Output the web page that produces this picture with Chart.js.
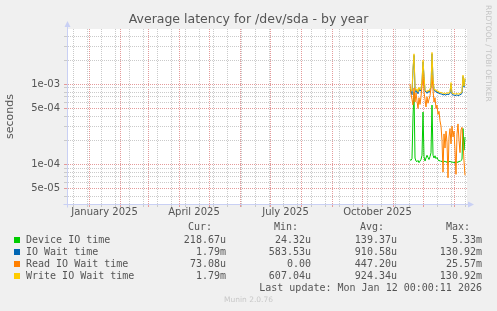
<!DOCTYPE html>
<html><head><meta charset="utf-8">
<script src="https://cdn.jsdelivr.net/npm/chart.js@4"></script>
<style>
html,body{margin:0;padding:0;background:#F0F0F0;}
#wrap{position:relative;width:497px;height:311px;overflow:hidden;background:#F0F0F0;}
canvas{position:absolute;left:0;top:0;}
.t{position:absolute;white-space:pre;font-family:"DejaVu Sans Mono",monospace;font-size:10px;line-height:12px;height:12px;color:#555;}
.sq{position:absolute;width:6px;height:6px;}
#rrd{position:absolute;left:484px;top:5px;writing-mode:vertical-rl;font-family:"DejaVu Sans",sans-serif;font-size:7.5px;line-height:9px;color:#C4C4C4;white-space:pre;}
#munin{position:absolute;left:0;width:497px;top:295px;text-align:center;font-family:"DejaVu Sans",sans-serif;font-size:7.5px;line-height:10px;color:#C8C8C8;}
</style></head><body>
<div id="wrap"><canvas id="c" width="497" height="311"></canvas><div id="leg"></div>
<div id="rrd">RRDTOOL / TOBI OETIKER</div><div id="munin">Munin 2.0.76</div></div>
<script>
// ---------------- data ----------------
const chartTitle = 'Average latency for /dev/sda - by year';
const firstSample = [2025, 11, 18];            // first daily sample (y, m, d)
const viewStart = [2024, 12, 10];              // left edge of the graph
const viewEnd = [2026, 1, 14];                 // right edge of the graph

const deviceIO = [1.15e-4,1.12e-4,1.18e-4,4.0e-4,8.0e-4,1.2e-4,1.1e-4,1.08e-4,1.12e-4,1.05e-4,
  1.1e-4,1.15e-4,1.3e-4,4.5e-4,1.25e-4,1.1e-4,1.2e-4,1.3e-4,1.22e-4,1.15e-4,
  1.25e-4,1.4e-4,5.5e-4,1.3e-4,1.2e-4,1.28e-4,1.18e-4,1.22e-4,1.15e-4,1.1e-4,
  1.12e-4,1.08e-4,1.1e-4,1.05e-4,1.08e-4,1.1e-4,1.06e-4,1.08e-4,1.04e-4,1.07e-4,
  1.1e-4,1.06e-4,1.08e-4,1.05e-4,1.07e-4,1.04e-4,1.06e-4,1.08e-4,1.05e-4,1.1e-4,
  1.08e-4,1.12e-4,1.15e-4,2.8e-4,1.5e-4,2.2e-4];
const ioWait = [8.7e-4,8.2e-4,7.4e-4,1.5e-3,2.3e-3,9.0e-4,7.9e-4,8.5e-4,7.6e-4,8.9e-4,
  8.2e-4,8.5e-4,1.05e-3,1.9e-3,1.25e-3,8.3e-4,8.0e-4,7.7e-4,8.2e-4,7.9e-4,
  8.5e-4,9.2e-4,2.4e-3,1.15e-3,8.5e-4,8.1e-4,8.3e-4,7.8e-4,8.0e-4,7.6e-4,
  7.7e-4,7.5e-4,7.6e-4,7.3e-4,7.5e-4,7.4e-4,7.3e-4,7.6e-4,7.4e-4,7.5e-4,
  7.7e-4,1.0e-3,7.5e-4,7.3e-4,7.4e-4,7.2e-4,7.3e-4,7.4e-4,7.2e-4,7.3e-4,
  7.4e-4,7.5e-4,7.7e-4,1.25e-3,9.2e-4,1.15e-3];
const readWait = [1.0e-3,7.5e-4,6.5e-4,5.5e-4,9.0e-4,6.0e-4,7.8e-4,6.2e-4,5.0e-4,6.8e-4,
  5.6e-4,7.0e-4,9.5e-4,1.4e-3,8.0e-4,6.5e-4,5.2e-4,7.0e-4,5.8e-4,6.5e-4,
  7.2e-4,9.0e-4,1.3e-3,8.5e-4,6.0e-4,6.8e-4,5.0e-4,5.5e-4,4.2e-4,4.6e-4,
  3.5e-4,3.0e-4,2.0e-4,8.0e-5,2.4e-4,1.6e-4,2.6e-4,1.9e-4,6.8e-5,2.2e-4,
  2.8e-4,1.8e-4,3.0e-4,2.2e-4,2.6e-4,1.5e-4,7.5e-5,2.4e-4,3.2e-4,2.0e-4,
  1.4e-4,2.7e-4,2.9e-4,1.9e-4,1.1e-4,7.3e-5];
const writeWait = [9.0e-4,8.6e-4,8.2e-4,1.6e-3,2.4e-3,9.5e-4,8.3e-4,8.8e-4,8.0e-4,9.2e-4,
  8.5e-4,8.8e-4,1.1e-3,2.0e-3,1.3e-3,8.6e-4,8.3e-4,8.0e-4,8.5e-4,8.2e-4,
  8.8e-4,9.5e-4,2.5e-3,1.2e-3,8.8e-4,8.4e-4,8.6e-4,8.1e-4,8.3e-4,7.9e-4,
  8.0e-4,7.8e-4,7.9e-4,7.6e-4,7.8e-4,7.7e-4,7.6e-4,7.9e-4,7.7e-4,7.8e-4,
  8.0e-4,1.05e-3,7.8e-4,7.6e-4,7.7e-4,7.5e-4,7.6e-4,7.7e-4,7.5e-4,7.6e-4,
  7.7e-4,7.8e-4,8.0e-4,1.3e-3,9.5e-4,1.2e-3];

const seriesNames = ['Device IO time','IO Wait time','Read IO Wait time','Write IO Wait time'];
const seriesColors = ['#00CC00','#0066B3','#FF8000','#FFCC00'];
const curVals = ['218.67u','1.79m','73.08u','1.79m'];
const minVals = ['24.32u','583.53u','0.00','607.04u'];
const avgVals = ['139.37u','910.58u','447.20u','924.34u'];
const maxVals = ['5.33m','130.92m','25.57m','130.92m'];
const lastUpdate = 'Last update: Mon Jan 12 00:00:11 2026';

const yMin = 3.2e-5, yMax = 4.9e-3;
const yGridValues = [4e-5,5e-5,6e-5,7e-5,8e-5,9e-5,1e-4,2e-4,3e-4,4e-4,5e-4,6e-4,7e-4,8e-4,9e-4,1e-3,2e-3,3e-3,4e-3];
const yLabelValues = [5e-5,1e-4,5e-4,1e-3];
const yLabelTexts = ['5e-05','1e-04','5e-04','1e-03'];
const xLabelMonths = [[2025,1],[2025,4],[2025,7],[2025,10]];
const xLabelTexts = ['January 2025','April 2025','July 2025','October 2025'];
const minorGridFirst = [2024,12,16];   // every other Monday
const minorGridStepDays = 14;

// ---------------- helpers ----------------
const DAY = 86400000;
const ORIGIN = Date.UTC(2025,0,1);
const dayOf = (y,m,d) => (Date.UTC(y,m-1,d)-ORIGIN)/DAY;
const xMin = dayOf(...viewStart), xMax = dayOf(...viewEnd);
const d0 = dayOf(...firstSample);
const toPts = arr => arr.map((v,i)=>({x:d0+i, y:v}));

const monthLines = [];
for (let y=2024; y<=2026; y++) for (let m=1; m<=12; m++) {
  const d = dayOf(y,m,1); if (d>=xMin && d<=xMax) monthLines.push(d);
}
const minorLines = [];
for (let d=dayOf(...minorGridFirst); d<=xMax; d+=minorGridStepDays) if (d>=xMin) minorLines.push(d);
const xGrid = [...new Set([...minorLines, ...monthLines])].sort((a,b)=>a-b);
const xLabelPos = xLabelMonths.map(([y,m]) => (dayOf(y,m,1)+dayOf(m===12?y+1:y, m===12?1:m+1, 1))/2);

const isClose = (a,b) => Math.abs(a-b) <= Math.abs(b)*1e-6;
const MINOR = '#CACACA', MAJOR = '#E49A9A', AXIS = '#C9D0F4';
const TXT = '#555';

const decor = {
  id:'decor',
  beforeDraw(chart){
    const {ctx, chartArea:a} = chart;
    ctx.save(); ctx.fillStyle='#FFFFFF';
    ctx.fillRect(a.left, a.top, a.right-a.left, a.bottom-a.top); ctx.restore();
  },
  afterDraw(chart){
    const {ctx, chartArea:a} = chart;
    const L = Math.round(a.left)+0.5, B = Math.round(a.bottom)+0.5;
    ctx.save(); ctx.strokeStyle=AXIS; ctx.fillStyle=AXIS; ctx.lineWidth=1;
    ctx.beginPath(); ctx.moveTo(L, B+3); ctx.lineTo(L, a.top-3); ctx.stroke();
    ctx.beginPath(); ctx.moveTo(L-4, B); ctx.lineTo(a.right+2, B); ctx.stroke();
    ctx.beginPath(); ctx.moveTo(L-3, a.top-2); ctx.lineTo(L+3, a.top-2); ctx.lineTo(L, a.top-8); ctx.closePath(); ctx.fill();
    ctx.beginPath(); ctx.moveTo(a.right+1, B-3); ctx.lineTo(a.right+1, B+3); ctx.lineTo(a.right+7, B); ctx.closePath(); ctx.fill();
    ctx.restore();
  }
};

const ds = (label, data, color, order) => ({label, data: toPts(data), borderColor: color, backgroundColor: color,
  borderWidth: 1, pointRadius: 0, tension: 0, fill: false, order, xAxisID:'x', yAxisID:'y'});

new Chart(document.getElementById('c'), {
  type: 'line',
  data: { datasets: [
    ds(seriesNames[3], writeWait, seriesColors[3], 0),
    ds(seriesNames[2], readWait, seriesColors[2], 1),
    ds(seriesNames[1], ioWait, seriesColors[1], 2),
    ds(seriesNames[0], deviceIO, seriesColors[0], 3),
  ]},
  options: {
    responsive: false, animation: false, events: [],
    layout: { padding: { left: 0, right: 0, top: 0, bottom: 88 } },
    plugins: {
      legend: { display: false }, tooltip: { enabled: false },
      title: { display: true, text: chartTitle, color: TXT,
        font: { family: 'DejaVu Sans', size: 12.5, weight: 'normal' }, padding: { top: 12, bottom: 2 } }
    },
    scales: {
      x: { type: 'linear', position: 'bottom', weight: 0, min: xMin, max: xMax,
        afterBuildTicks: s => { s.ticks = xGrid.map(v => ({value: v})); },
        afterFit: s => { s.height = 3; },
        ticks: { display: false },
        grid: { drawTicks: true, tickLength: 3, lineWidth: 1,
          color: c => monthLines.includes(c.tick && c.tick.value) ? MAJOR : MINOR },
        border: { display: true, color: AXIS, dash: [1,1] } },
      x2: { type: 'linear', position: 'bottom', weight: 1, min: xMin, max: xMax,
        afterBuildTicks: s => { s.ticks = xLabelPos.map(v => ({value: v})); },
        afterFit: s => { s.height = 16; },
        grid: { display: false, drawTicks: false, tickLength: 0 }, border: { display: false },
        ticks: { autoSkip: false, maxRotation: 0, padding: -1, color: TXT,
          font: { family: 'DejaVu Sans', size: 10 },
          callback: (v) => { const i = xLabelPos.findIndex(p => Math.abs(p-v)<1e-6); return i>=0 ? xLabelTexts[i] : ''; } } },
      y: { type: 'logarithmic', position: 'left', min: yMin, max: yMax,
        afterBuildTicks: s => { s.ticks = yGridValues.map(v => ({value: v})); },
        afterFit: s => { s.width = 67; },
        ticks: { autoSkip: false, padding: 4, color: TXT, font: { family: 'DejaVu Sans', size: 10 },
          callback: (v) => { const i = yLabelValues.findIndex(p => isClose(v,p)); return i>=0 ? yLabelTexts[i] : ''; } },
        grid: { drawTicks: true, tickLength: 3, lineWidth: 1,
          color: c => (c.tick && yLabelValues.some(p => isClose(c.tick.value,p))) ? MAJOR : MINOR },
        border: { display: true, color: AXIS, dash: [1,1] },
        title: { display: true, text: 'seconds', color: TXT, font: { family: 'DejaVu Sans', size: 11 }, padding: { top: 4, bottom: 0 } } },
      yr: { type: 'linear', position: 'right', display: true,
        afterFit: s => { s.width = 30; },
        grid: { display: false }, border: { display: false }, ticks: { display: false } }
    }
  },
  plugins: [decor]
});

// ---------------- legend (HTML text) ----------------
const leg = document.getElementById('leg');
function addText(txt, cy, opts) {
  const d = document.createElement('div'); d.className = 't'; d.textContent = txt;
  d.style.top = (cy - 6) + 'px';
  if (opts.left !== undefined) d.style.left = opts.left + 'px';
  if (opts.right !== undefined) { d.style.right = (497 - opts.right) + 'px'; d.style.textAlign = 'right'; }
  leg.appendChild(d);
}
const headRight = [212, 298, 384, 470];
const valRight = [226, 311, 397, 482];
['Cur:','Min:','Avg:','Max:'].forEach((h,i) => addText(h, 227, {right: headRight[i]}));
const rowY = [240, 252, 264, 276];
seriesNames.forEach((n,i) => {
  const sq = document.createElement('div'); sq.className = 'sq';
  sq.style.left = '14px'; sq.style.top = (rowY[i]-3) + 'px'; sq.style.background = seriesColors[i];
  leg.appendChild(sq);
  addText(n, rowY[i], {left: 26});
  [curVals, minVals, avgVals, maxVals].forEach((arr,j) => addText(arr[i], rowY[i], {right: valRight[j]}));
});
addText(lastUpdate, 288, {right: 482});
</script>
</body></html>
